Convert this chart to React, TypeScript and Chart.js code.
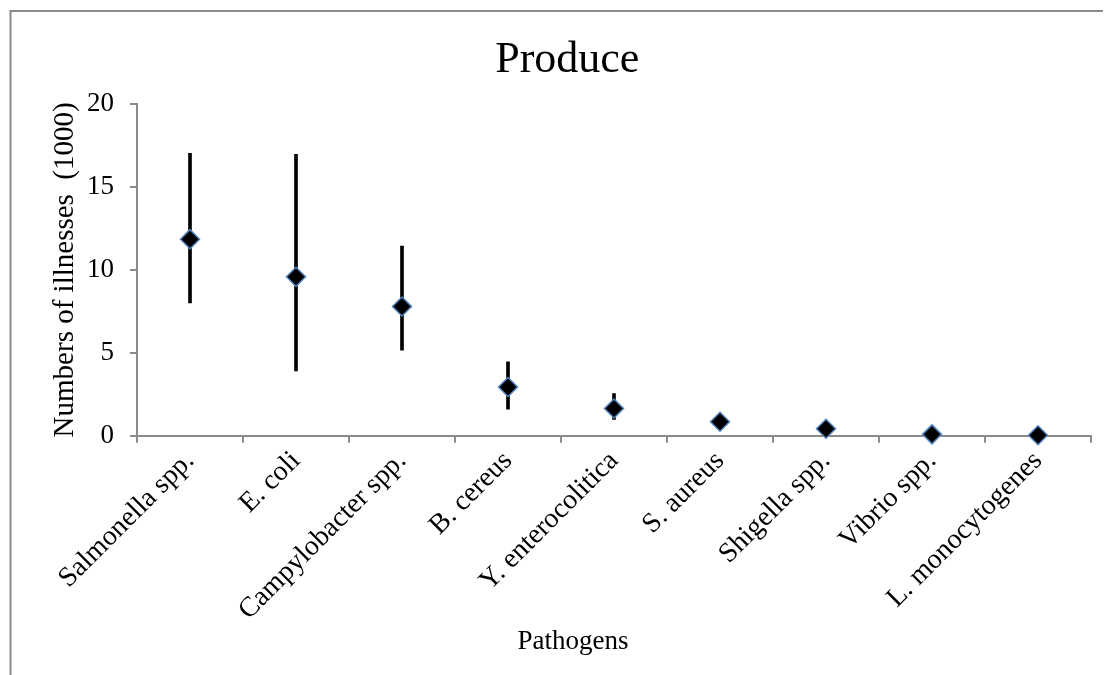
import React, { useEffect, useRef } from "react";
import { Chart, registerables } from "chart.js";

Chart.register(...registerables);

const categories = [
  "Salmonella spp.",
  "E. coli",
  "Campylobacter spp.",
  "B. cereus",
  "Y. enterocolitica",
  "S. aureus",
  "Shigella spp.",
  "Vibrio spp.",
  "L. monocytogenes",
];
const meanValues = [11.85, 9.58, 7.79, 2.94, 1.64, 0.84, 0.42, 0.08, 0.03];
const lowValues: (number | null)[] = [8.0, 3.9, 5.16, 1.6, 0.98, null, null, null, null];
const highValues: (number | null)[] = [17.03, 16.97, 11.43, 4.45, 2.54, null, null, null, null];
const yTicks = [0, 5, 10, 15, 20];
const xAxisTitle = "Pathogens";

const AXIS = "#8a8a8a";
const SERIF = "'Liberation Serif', 'Times New Roman', serif";

const framePlugin = {
  id: "frame",
  beforeDraw(chart: any) {
    const ctx = chart.ctx;
    ctx.save();
    ctx.strokeStyle = AXIS;
    ctx.lineWidth = 2;
    ctx.beginPath();
    ctx.moveTo(2.5, chart.height + 5);
    ctx.lineTo(2.5, 3);
    ctx.lineTo(chart.width + 5, 3);
    ctx.stroke();
    ctx.restore();
  },
  afterDraw(chart: any) {
    const ctx = chart.ctx;
    ctx.save();
    ctx.fillStyle = "#000";
    ctx.font = `27px ${SERIF}`;
    ctx.textAlign = "center";
    ctx.textBaseline = "alphabetic";
    ctx.fillText(xAxisTitle, 565, 641);
    ctx.restore();
  },
};

export default function App() {
  const ref = useRef<HTMLCanvasElement | null>(null);
  useEffect(() => {
    if (!ref.current) return;
    const ranges = lowValues.map((l, i) =>
      l === null || highValues[i] === null ? null : [l, highValues[i] as number]
    );
    const chart = new Chart(ref.current, {
      type: "bar",
      data: {
        labels: categories,
        datasets: [
          {
            type: "line" as any,
            label: "Illnesses",
            data: meanValues,
            showLine: false,
            pointStyle: "rectRot",
            pointRadius: 9.5,
            pointBackgroundColor: "#000000",
            pointBorderColor: "#4f81bd",
            pointBorderWidth: 1.5,
            clip: false as any,
            order: 0,
          } as any,
          {
            type: "bar" as any,
            label: "Range",
            data: ranges as any,
            backgroundColor: "#000000",
            borderWidth: 0,
            barThickness: 3,
            order: 1,
          } as any,
        ],
      },
      options: {
        animation: false,
        responsive: false,
        maintainAspectRatio: false,
        layout: { padding: { left: 35.6, right: 20, top: 0, bottom: 0 } },
        plugins: {
          legend: { display: false },
          tooltip: { enabled: false },
          title: {
            display: true,
            text: "Produce",
            color: "#000",
            font: { family: SERIF, size: 44, weight: "normal" },
            padding: { top: 25.6, bottom: 17.6 },
          },
        },
        scales: {
          x: {
            type: "category",
            offset: true,
            grid: {
              offset: true,
              drawOnChartArea: false,
              drawTicks: true,
              tickLength: 7,
              color: AXIS,
              lineWidth: 2,
            },
            border: { display: true, color: AXIS, width: 2 },
            ticks: {
              color: "#000",
              font: { family: SERIF, size: 28 },
              maxRotation: 45,
              minRotation: 45,
              padding: 2,
              autoSkip: false,
            },
            title: { display: false },
            afterFit(scale: any) {
              scale.height = 239.3;
            },
          },
          y: {
            min: 0,
            max: 20,
            afterBuildTicks(scale: any) {
              scale.ticks = yTicks.map((v) => ({ value: v }));
            },
            grid: {
              drawOnChartArea: false,
              drawTicks: true,
              tickLength: 7,
              color: AXIS,
              lineWidth: 2,
            },
            border: { display: true, color: AXIS, width: 2 },
            ticks: {
              color: "#000",
              font: { family: SERIF, size: 27 },
              padding: 16,
            },
            title: {
              display: true,
              text: "Numbers of illnesses  (1000)",
              color: "#000",
              font: { family: SERIF, size: 29 },
              padding: { top: 4, bottom: 4 },
            },
            afterFit(scale: any) {
              scale.width = 93.4;
            },
          },
        },
      },
      plugins: [framePlugin],
    });
    return () => chart.destroy();
  }, []);
  return (
    <div style={{ width: 1103, height: 667 }}>
      <canvas ref={ref} width={1103} height={667} style={{ display: "block" }} />
    </div>
  );
}
